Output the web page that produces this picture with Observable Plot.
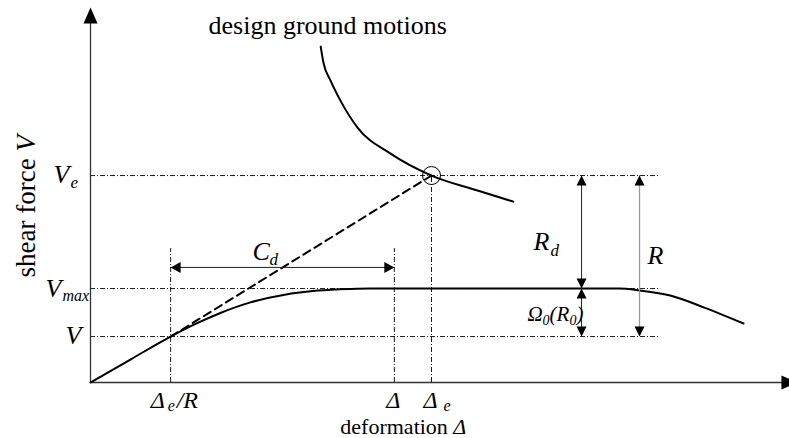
<!DOCTYPE html>
<html>
<head>
<meta charset="utf-8">
<script src="https://cdn.jsdelivr.net/npm/d3@7"></script>
<script src="https://cdn.jsdelivr.net/npm/@observablehq/plot@0.6"></script>
<style>
  html, body { margin: 0; padding: 0; background: #fff; }
  #chart svg { display: block; }
</style>
</head>
<body>
<div id="chart"></div>
<script>
// Characteristic deformations (x) and shear forces (y), arbitrary units
const deltaElasticOverR = 2.35;   // Δe/R
const deltaDesign = 8.91;         // Δ
const deltaElastic = 10;          // Δe
const shearElastic = 10;          // Ve
const shearMax = 4.54;            // Vmax
const shearDesign = 2.22;         // V

// Placement of the dimension lines and guide extents
const cdLevel = 5.56;
const rdPosition = 14.4;
const rPosition = 16.1;
const guideEnd = 16.72;
const guideTop = 6.47;
const xAxisEnd = 20.73;
const yAxisEnd = 18.12;

// Capacity (pushover) curve of the structure
const pushoverDeformation = [0, 1.17, 2.35, 3.08, 3.81, 4.69, 5.66, 6.66, 7.63, 8.21, 15.5, 16.1, 17.0, 18.0, 19.15];
const pushoverShear       = [0, 1.11, 2.22, 2.83, 3.36, 3.87, 4.23, 4.44, 4.52, 4.54, 4.54, 4.45, 4.2, 3.62, 2.85];

// Demand curve of the design ground motions
const demandDeformation = [6.75, 6.83, 7.04, 7.33, 7.83, 8.8, 10, 11.35, 12.4];
const demandShear       = [16.23, 15.46, 14.59, 13.62, 12.32, 11.06, 10, 9.28, 8.74];

const pushover = pushoverDeformation.map((x, i) => ({x, y: pushoverShear[i]}));
const demand = demandDeformation.map((x, i) => ({x, y: demandShear[i]}));

const serif = "'Liberation Serif', 'Times New Roman', serif";
const guideDash = "5,2,1,2";

// Filled triangular arrowhead with its tip at the anchor point
function head(dir, len, half) {
  const pts = {
    up:    [[0, 0], [-half, len], [half, len]],
    down:  [[0, 0], [-half, -len], [half, -len]],
    left:  [[0, 0], [len, -half], [len, half]],
    right: [[0, 0], [-len, -half], [-len, half]]
  }[dir];
  return {
    draw(ctx) {
      ctx.moveTo(pts[0][0], pts[0][1]);
      ctx.lineTo(pts[1][0], pts[1][1]);
      ctx.lineTo(pts[2][0], pts[2][1]);
      ctx.closePath();
    }
  };
}

function heads(points, symbol) {
  return Plot.dot(points, {x: d => d[0], y: d => d[1], symbol, fill: "black", stroke: "none", r: 5});
}

// One run of text; baseline sits at the anchor point shifted by dx/dy
function label(x, y, text, {dx = 0, dy = 0, size = 24, italic = true, anchor = "start", rotate = 0} = {}) {
  return Plot.text([{x, y}], {
    x: "x", y: "y", text: () => text, dx, dy,
    fontSize: size, fontStyle: italic ? "italic" : "normal",
    fontFamily: serif, textAnchor: anchor, lineAnchor: "bottom",
    fill: "black", rotate
  });
}

const chart = Plot.plot({
  width: 789,
  height: 438,
  marginLeft: 90,
  marginRight: 3,
  marginTop: 7,
  marginBottom: 56,
  x: {domain: [0, 20.41], axis: null},
  y: {domain: [0, 18.12], axis: null},
  style: {background: "white", fontFamily: serif, overflow: "visible"},
  marks: [
    // guide lines
    Plot.ruleY([shearElastic, shearMax, shearDesign], {x1: 0, x2: guideEnd, stroke: "black", strokeWidth: 0.9, strokeDasharray: guideDash}),
    Plot.ruleX([deltaElasticOverR, deltaDesign], {y1: 0, y2: guideTop, stroke: "black", strokeWidth: 0.9, strokeDasharray: guideDash}),
    Plot.ruleX([deltaElastic], {y1: 0, y2: shearElastic, stroke: "black", strokeWidth: 0.9, strokeDasharray: guideDash}),

    // axes
    Plot.ruleX([0], {y1: 0, y2: yAxisEnd - 0.5, stroke: "#333", strokeWidth: 1.3}),
    Plot.ruleY([0], {x1: 0, x2: xAxisEnd - 0.3, stroke: "#333", strokeWidth: 1.3}),
    heads([[0, yAxisEnd]], head("up", 16, 7)),
    heads([[xAxisEnd, 0]], head("right", 16, 7)),

    // elastic line to the demand point
    Plot.line([[deltaElasticOverR, shearDesign], [deltaElastic, shearElastic]], {stroke: "black", strokeWidth: 2, strokeDasharray: "8,5"}),

    // capacity and demand curves
    Plot.line(pushover, {x: "x", y: "y", curve: "monotone-x", stroke: "black", strokeWidth: 2}),
    Plot.line(demand, {x: "x", y: "y", curve: "monotone-x", stroke: "black", strokeWidth: 2}),
    Plot.dot([[deltaElastic, shearElastic]], {r: 9, stroke: "black", fill: "none", strokeWidth: 1}),

    // dimension lines: Cd, Rd / Ω0, R
    Plot.ruleY([cdLevel], {x1: deltaElasticOverR, x2: deltaDesign, stroke: "#222", strokeWidth: 1}),
    Plot.ruleX([rdPosition], {y1: shearDesign, y2: shearElastic, stroke: "#222", strokeWidth: 1}),
    Plot.ruleX([rPosition], {y1: shearDesign, y2: shearElastic, stroke: "#999", strokeWidth: 1.3}),
    heads([[deltaElasticOverR, cdLevel]], head("left", 10, 5.5)),
    heads([[deltaDesign, cdLevel]], head("right", 10, 5.5)),
    heads([[rdPosition, shearElastic], [rdPosition, shearMax], [rPosition, shearElastic]], head("up", 10, 5)),
    heads([[rdPosition, shearMax], [rdPosition, shearDesign], [rPosition, shearDesign]], head("down", 10, 5)),

    // y tick labels
    label(0, shearElastic, "V", {dx: -37, dy: 7, size: 26}),
    label(0, shearElastic, "e", {dx: -20, dy: 12, size: 17}),
    label(0, shearMax, "V", {dx: -45, dy: 8, size: 26}),
    label(0, shearMax, "max", {dx: -28, dy: 12, size: 16}),
    label(0, shearDesign, "V", {dx: -25, dy: 7, size: 26}),

    // x tick labels
    label(deltaElasticOverR, 0, "Δ", {dx: -20, dy: 25, size: 24}),
    label(deltaElasticOverR, 0, "e", {dx: -3, dy: 28, size: 16}),
    label(deltaElasticOverR, 0, "/R", {dx: 6, dy: 25, size: 24}),
    label(deltaDesign, 0, "Δ", {dx: -8, dy: 25, size: 24}),
    label(deltaElastic, 0, "Δ", {dx: -8, dy: 25, size: 24}),
    label(deltaElastic, 0, "e", {dx: 12, dy: 28, size: 16}),

    // axis titles
    label(deltaDesign, 0, "deformation", {dx: -54, dy: 51, size: 22, italic: false}),
    label(deltaDesign, 0, "Δ", {dx: 59, dy: 51, size: 22}),
    label(0, 0, "shear force", {dx: -56, dy: -105, size: 27, italic: false, rotate: -90}),
    label(0, 0, "V", {dx: -56, dy: -231, size: 27, rotate: -90}),
    label(demandDeformation[0], demandShear[0], "design ground motions", {dx: 7, dy: -13, size: 26, italic: false, anchor: "middle"}),

    // dimension labels
    label((deltaElasticOverR + deltaDesign) / 2, cdLevel, "C", {dx: -30, dy: -7, size: 26}),
    label((deltaElasticOverR + deltaDesign) / 2, cdLevel, "d", {dx: -13, dy: -2, size: 17}),
    label(rdPosition, (shearElastic + shearMax) / 2, "R", {dx: -48, dy: 18, size: 26}),
    label(rdPosition, (shearElastic + shearMax) / 2, "d", {dx: -31, dy: 24, size: 17}),
    label(rPosition, (shearElastic + shearDesign) / 2, "R", {dx: 8, dy: 8, size: 26}),
    label(rdPosition, (shearMax + shearDesign) / 2, "Ω", {dx: -54, dy: 8, size: 21}),
    label(rdPosition, (shearMax + shearDesign) / 2, "0", {dx: -39, dy: 12, size: 14}),
    label(rdPosition, (shearMax + shearDesign) / 2, "(R", {dx: -32, dy: 8, size: 21}),
    label(rdPosition, (shearMax + shearDesign) / 2, "0", {dx: -12, dy: 12, size: 14}),
    label(rdPosition, (shearMax + shearDesign) / 2, ")", {dx: -5, dy: 8, size: 21})
  ]
});

document.getElementById("chart").appendChild(chart);
</script>
</body>
</html>
